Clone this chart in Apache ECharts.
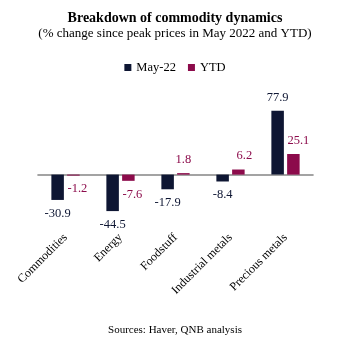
<!DOCTYPE html>
<html><head><meta charset="utf-8">
<script src="https://cdn.jsdelivr.net/npm/echarts@6/dist/echarts.min.js"></script>
<style>html,body{margin:0;padding:0;background:#fff}#c{width:350px;height:343px}</style>
</head><body><div id="c"></div>
<script>
const categories = ["Commodities", "Energy", "Foodstuff", "Industrial metals", "Precious metals"];
const may22 = [-30.9, -44.5, -17.9, -8.4, 77.9];
const ytd = [-1.2, -7.6, 1.8, 6.2, 25.1];
const seriesNames = ["May-22", "YTD"];
const colors = ["#0e1633", "#8c0b4b"];
// horizontal nudges of the value labels (style only)
const may22LabelNudge = [0, 0, 0, 0, 0];
const ytdLabelNudge = [4, 4, 0, 6, 5];
const serif = "Liberation Serif, Times New Roman, serif";

const chart = echarts.init(document.getElementById('c'));
function mk(name, data, color, nudge){
  return {name:name, type:'bar', barWidth:12.5, barGap:'26%', itemStyle:{color:color},
    data:data.map((v,i) => ({value:v, label:{show:true, position: v<0?'bottom':'top', distance:7,
      offset:[nudge[i],0], color:color, fontFamily:serif, fontSize:12.5,
      formatter: p => p.value.toFixed(1)}}))};
}
chart.setOption({
  animation:false,
  title:[
    {text:"Breakdown of commodity dynamics", left:'center', top:6,
     textStyle:{fontFamily:serif, fontSize:14, fontWeight:'bold', color:'#000'}},
    {text:"(% change since peak prices in May 2022 and YTD)", left:'center', top:22,
     textStyle:{fontFamily:serif, fontSize:13, fontWeight:'normal', color:'#000'}},
    {text:"Sources: Haver, QNB analysis", left:'center', top:320,
     textStyle:{fontFamily:serif, fontSize:11, fontWeight:'normal', color:'#000'}}
  ],
  legend:{top:56, left:'center', itemWidth:7, itemHeight:7, itemGap:12, icon:'rect',
    textStyle:{fontFamily:serif, fontSize:12.5, color:'#000'}, data:seriesNames},
  grid:{left:38, width:275, top:109, height:106.6},
  xAxis:{type:'category', data:categories,
    axisLine:{lineStyle:{color:'#858585', width:1.6}, onZero:true},
    axisTick:{show:false},
    axisLabel:{rotate:45, margin:20, fontFamily:serif, fontSize:12, color:'#000', interval:0}},
  yAxis:{type:'value', min:-50, max:80, show:false, splitLine:{show:false}},
  series:[mk(seriesNames[0], may22, colors[0], may22LabelNudge), mk(seriesNames[1], ytd, colors[1], ytdLabelNudge)]
});
</script></body></html>
